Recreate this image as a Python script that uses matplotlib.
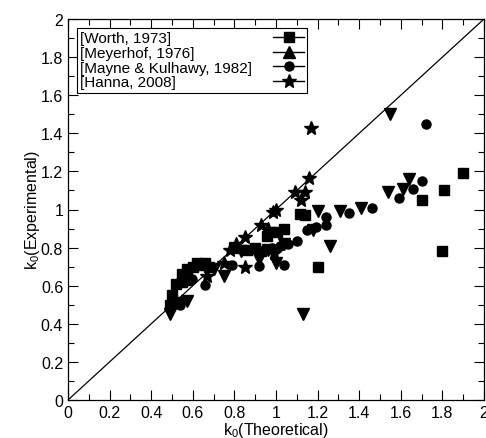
import matplotlib
matplotlib.use("Agg")
import matplotlib.pyplot as plt
from matplotlib.lines import Line2D
from matplotlib.ticker import MultipleLocator, FuncFormatter

plt.rcParams['font.family'] = ['Liberation Sans', 'DejaVu Sans']
plt.rcParams['mathtext.fontset'] = 'custom'
plt.rcParams['mathtext.rm'] = 'Liberation Sans'
plt.rcParams['mathtext.default'] = 'regular'

# Worth, 1973 (squares)
worth_x = [0.49, 0.50, 0.52, 0.55, 0.57, 0.55, 0.57, 0.60, 0.62, 0.64, 0.66, 0.68,
           0.80, 0.86, 0.90, 0.93, 0.955, 1.005, 1.04, 1.115, 1.14, 1.20, 1.70, 1.80, 1.81, 1.90]
worth_y = [0.50, 0.55, 0.61, 0.62, 0.63, 0.66, 0.69, 0.70, 0.72, 0.71, 0.72, 0.70,
           0.80, 0.79, 0.80, 0.78, 0.86, 0.88, 0.90, 0.975, 0.97, 0.70, 1.05, 0.78, 1.10, 1.19]

# Meyerhof, 1976 (triangles)
meyer_x = [0.49, 0.54, 0.57, 0.70, 0.75, 0.83, 0.92, 0.96, 1.00, 1.04, 1.13, 1.18,
           1.20, 1.26, 1.31, 1.41, 1.54, 1.55, 1.61, 1.64]
meyer_y = [0.45, 0.51, 0.52, 0.69, 0.65, 0.78, 0.74, 0.79, 0.72, 0.82, 0.45, 0.89,
           0.99, 0.81, 0.99, 1.01, 1.09, 1.50, 1.11, 1.16]

# Mayne & Kulhawy, 1982 (circles)
mayne_x = [0.54, 0.595, 0.66, 0.79, 0.92, 0.98, 1.02, 1.04, 1.06, 1.10, 1.15, 1.19,
           1.24, 1.24, 1.35, 1.46, 1.59, 1.66, 1.70, 1.72]
mayne_y = [0.50, 0.635, 0.605, 0.71, 0.705, 0.80, 0.81, 0.71, 0.82, 0.835, 0.89, 0.91,
           0.92, 0.96, 0.98, 1.01, 1.06, 1.11, 1.15, 1.45]

# Hanna, 2008 (stars)
hanna_x = [0.67, 0.75, 0.78, 0.81, 0.85, 0.85, 0.93, 0.96, 0.99, 0.985, 1.00, 1.09,
           1.12, 1.14, 1.16, 1.17]
hanna_y = [0.65, 0.72, 0.79, 0.82, 0.855, 0.70, 0.92, 0.90, 0.77, 0.985, 1.00, 1.09,
           1.05, 1.09, 1.165, 1.43]

labels = ['[Worth, 1973]', '[Meyerhof, 1976]', '[Mayne & Kulhawy, 1982]', '[Hanna, 2008]']

fig = plt.figure(figsize=(4.86, 4.39), dpi=100)
ax = fig.add_axes([68/486, 38/439, 416/486, 381/439])

ax.plot([0, 2], [0, 2], color='black', lw=0.9, zorder=1)
ax.plot(worth_x, worth_y, ls='none', marker='s', ms=7.5, color='black', zorder=3)
ax.plot(meyer_x, meyer_y, ls='none', marker='v', ms=8.5, color='black', zorder=3)
ax.plot(mayne_x, mayne_y, ls='none', marker='o', ms=6.5, color='black', zorder=3)
ax.plot(hanna_x, hanna_y, ls='none', marker='*', ms=10.5, color='black', zorder=3)

ax.set_xlim(0, 2)
ax.set_ylim(0, 2)
ax.xaxis.set_major_locator(MultipleLocator(0.2))
ax.yaxis.set_major_locator(MultipleLocator(0.2))
ax.xaxis.set_minor_locator(MultipleLocator(0.1))
ax.yaxis.set_minor_locator(MultipleLocator(0.1))
ax.tick_params(which='both', direction='in', top=True, right=True, labelsize=11.5)
ax.tick_params(which='major', length=7, width=0.8)
ax.tick_params(which='minor', length=4, width=0.8)
fmt = FuncFormatter(lambda v, p: '%g' % round(v, 1))
ax.xaxis.set_major_formatter(fmt)
ax.yaxis.set_major_formatter(fmt)
for s in ax.spines.values():
    s.set_linewidth(0.9)

ax.set_xlabel('k$_0$(Theoretical)', fontsize=11.5, labelpad=0)
ax.set_ylabel('k$_0$(Experimental)', fontsize=11.5, labelpad=-1)

handles = [Line2D([], [], color='black', lw=1, marker='s', ms=7),
           Line2D([], [], color='black', lw=1, marker='^', ms=8),
           Line2D([], [], color='black', lw=1, marker='o', ms=6.5),
           Line2D([], [], color='black', lw=1, marker='*', ms=10)]
leg = ax.legend(handles, labels, loc='upper left', bbox_to_anchor=(0.0216, 0.976),
                borderaxespad=0, markerfirst=False, fancybox=False, framealpha=1,
                edgecolor='black', fontsize=11, borderpad=0.2, labelspacing=0.05,
                handlelength=2.0, handletextpad=1.5)
leg.get_frame().set_linewidth(0.8)

# left-align label texts, handles flush right
for col in leg._legend_handle_box.get_children():
    col.width = 224
    for item in col.get_children():
        item.mode = 'expand'

fig.savefig('out.png', dpi=100)
